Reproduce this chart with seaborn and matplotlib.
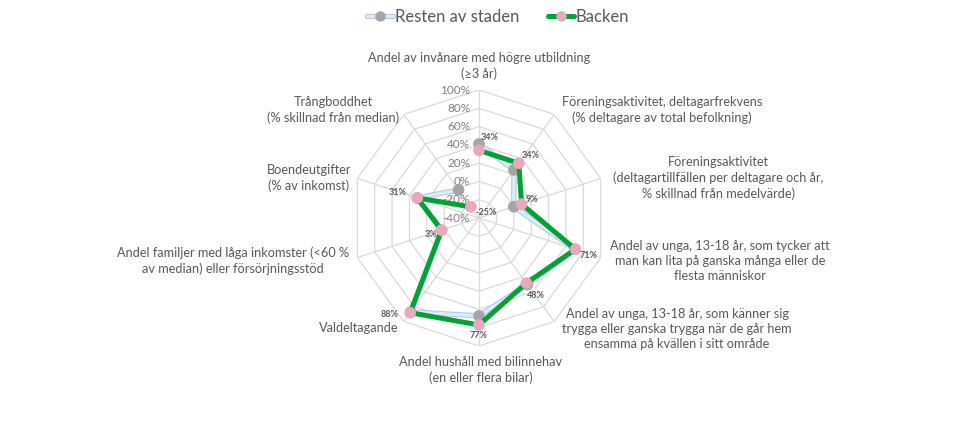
import numpy as np
import pandas as pd
import seaborn as sns
import matplotlib.pyplot as plt
import matplotlib.patheffects as pe
from matplotlib.lines import Line2D

# axis categories, clockwise from the top
categories = [
    'Andel av invånare med högre utbildning\n(≥3 år)',
    'Föreningsaktivitet, deltagarfrekvens\n(% deltagare av total befolkning)',
    'Föreningsaktivitet\n(deltagartillfällen per deltagare och år,\n% skillnad från medelvärde)',
    'Andel av unga, 13-18 år, som tycker att\nman kan lita på ganska många eller de\nflesta människor',
    'Andel av unga, 13-18 år, som känner sig\ntrygga eller ganska trygga när de går hem\nensamma på kvällen i sitt område',
    'Andel hushåll med bilinnehav\n(en eller flera bilar)',
    'Valdeltagande',
    'Andel familjer med låga inkomster (<60 %\nav median) eller försörjningsstöd',
    'Boendeutgifter\n(% av inkomst)',
    'Trångboddhet\n(% skillnad från median)',
]
backen = [34, 34, 9, 71, 48, 77, 88, 3, 31, -25]
resten = [41, 25, 0, 70, 50, 67, 87, 3, 31, -2]
ticks = [-40, -20, 0, 20, 40, 60, 80, 100]

sns.set_theme(style='white')
plt.rcParams['font.family'] = ['Lato', 'DejaVu Sans']

n = len(categories)
angles = np.linspace(0, 2 * np.pi, n, endpoint=False)
closed = np.append(angles, angles[0])

fig = plt.figure(figsize=(9.6, 4.4), dpi=100)
ax = fig.add_axes([(479 - 128) / 960, (222 - 128) / 440, 256 / 960, 256 / 440], polar=True)
ax.set_theta_zero_location('N')
ax.set_theta_direction(-1)
ax.set_ylim(-40, 100)
ax.grid(False)
ax.spines['polar'].set_visible(False)
ax.set_xticks([])
ax.set_yticks([])

grid_c = '#d9d9d9'
for t in ticks[1:]:
    ax.plot(closed, [t] * len(closed), color=grid_c, lw=0.9, zorder=1)
for a in angles:
    ax.plot([a, a], [-40, 100], color=grid_c, lw=0.9, zorder=1)

for t in ticks:
    ax.annotate(f'{t}%', xy=(0, t), xytext=(-9, 0), textcoords='offset pixels',
                ha='right', va='center', fontsize=8.5, color='#7f7f7f')

df_r = pd.DataFrame({'theta': closed, 'r': resten + resten[:1]})
df_b = pd.DataFrame({'theta': closed, 'r': backen + backen[:1]})

blue_in, blue_out = '#deebf7', '#a9c8e8'
green, pink, grey = '#00a036', '#e8a9bf', '#a5a5a5'

sns.lineplot(data=df_r, x='theta', y='r', sort=False, ax=ax, color=blue_in, lw=2.4,
             path_effects=[pe.Stroke(linewidth=3.8, foreground=blue_out), pe.Normal()], zorder=3)
sns.scatterplot(x=angles, y=resten, ax=ax, color=grey, s=70, edgecolor='none', zorder=4)
sns.lineplot(data=df_b, x='theta', y='r', sort=False, ax=ax, color=green, lw=3.6, zorder=5)
sns.scatterplot(x=angles, y=backen, ax=ax, color=pink, s=70, edgecolor='none', zorder=6)
ax.set_xlabel('')
ax.set_ylabel('')
ax.set_ylim(-40, 100)

# data label offsets (pixels)
offs = [(11, 13), (12, 8), (10, 5), (13, -6), (10, -12), (0, -11), (-21, -2), (-11, -4), (-20, 5), (15, -6)]
for a, v, (dx, dy) in zip(angles, backen, offs):
    ax.annotate(f'{v}%', xy=(a, v), xytext=(dx, dy), textcoords='offset pixels',
                ha='center', va='center', fontsize=6.5, fontweight='bold', color='#595959', zorder=7)

# category label centres (pixels)
pos = [(479, 66), (662, 110), (718, 178), (720, 261), (677, 329),
       (481, 370), (359, 328), (233, 261), (309, 178), (333, 110)]
for lab, (x, y) in zip(categories, pos):
    fig.text(x / 960, 1 - y / 440, lab, ha='center', va='center', multialignment='center',
             fontsize=9.2, color='#595959', linespacing=1.3)

h_resten = (Line2D([], [], color=blue_out, lw=3.8),
            Line2D([], [], color=blue_in, lw=2.4),
            Line2D([], [], ls='none', marker='o', markersize=7.5, markerfacecolor=grey, markeredgecolor='none'))
h_backen = (Line2D([], [], color=green, lw=3.6),
            Line2D([], [], ls='none', marker='o', markersize=7.5, markerfacecolor=pink, markeredgecolor='none'))
leg = fig.legend([h_resten, h_backen], ['Resten av staden', 'Backen'], loc='center',
                 bbox_to_anchor=(498 / 960, 1 - 17 / 440), ncol=2, frameon=False, fontsize=12,
                 handlelength=1.6, handletextpad=0.1, columnspacing=1.7)
for t in leg.get_texts():
    t.set_color('#595959')

fig.savefig('out.png', dpi=100)
